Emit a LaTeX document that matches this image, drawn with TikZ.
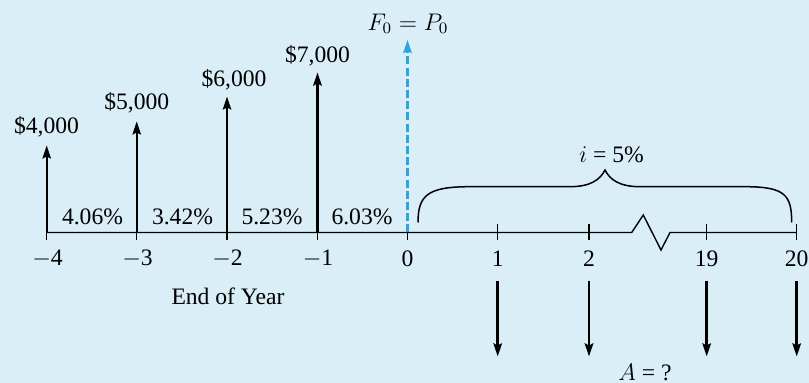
\documentclass[tikz,border=0pt]{standalone}
\usepackage{fontspec}
\setmainfont{Liberation Serif}
\usetikzlibrary{arrows.meta}
\definecolor{bg}{HTML}{DAEEF7}
\definecolor{dashblue}{HTML}{2AA6DC}
\begin{document}
\begin{tikzpicture}[x=0.5pt,y=-0.5pt,
  txt/.style={font=\fontsize{11.8}{14}\selectfont, inner sep=0pt},
  uparr/.style={-{Stealth[length=6.5pt,width=4.2pt,inset=1pt]}},
  downarr/.style={line width=1.4pt,-{Stealth[length=6.5pt,width=4.2pt,inset=1pt]}},
  tick/.style={line width=0.7pt}]
\fill[bg] (0,0) rectangle (809,383);
\useasboundingbox (0,0) rectangle (809,383);
% tick coordinates
\coordinate (tm4) at (46.7,232.5);
\coordinate (tm3) at (136.7,232.5);
\coordinate (tm2) at (227,232.5);
\coordinate (tm1) at (317.5,232.5);
\coordinate (t0) at (407.5,232.5);
\coordinate (t1) at (497.7,232.5);
\coordinate (t2) at (589,232.5);
\coordinate (t19) at (706.7,232.5);
\coordinate (t20) at (796.7,232.5);
% break
\coordinate (b1) at (631.7,232.5);
\coordinate (b2) at (643.3,215);
\coordinate (b3) at (661,250);
\coordinate (b4) at (670,232.5);
% axis
\draw[line width=0.7pt] (tm4) -- (b1) -- (b2) -- (b3) -- (b4) -- (t20);
\foreach \t in {tm4,tm3,tm2,tm1,t0} \draw[tick] (\t) -- ++(0,8);
\foreach \t in {t1,t2,t19,t20} \draw[tick] (\t) ++(0,-8) -- ++(0,16);
% tick labels
\node[txt] (lm4) at (47.5,258.5) {$-$4};
\node[txt] (lm3) at (137.5,258.5) {$-$3};
\node[txt] (lm2) at (227.5,258.5) {$-$2};
\node[txt] (lm1) at (318,258.5) {$-$1};
\node[txt] (l0) at (407.5,258.5) {0};
\node[txt] (l1) at (497.7,258.5) {1};
\node[txt] (l2) at (589,258.5) {2};
\node[txt] (l19) at (706.7,258.5) {19};
\node[txt] (l20) at (796.7,258.5) {20};
\node[txt] (eoy) at (228,296) {End of Year};
% up arrows
\coordinate (um4) at (46.7,145.5);
\coordinate (um3) at (136.7,121.5);
\coordinate (um2) at (227,96.5);
\coordinate (um1) at (317.5,72.5);
\coordinate (u0) at (407.5,40);
\draw[uparr,line width=1pt] (tm4) -- (um4);
\draw[uparr,line width=1pt] (tm3) -- (um3);
\draw[uparr,line width=1.2pt] (tm2) -- (um2);
\draw[uparr,line width=1.8pt] (tm1) -- (um1);
\draw[line width=1.3pt,dashblue,dash pattern=on 4pt off 1.6pt,-{Stealth[length=6.5pt,width=4.2pt,inset=1pt]}] (t0) -- (u0);
\node[txt] (c4) at (46.5,127) {\$4,000};
\node[txt] (c5) at (136.7,103) {\$5,000};
\node[txt] (c6) at (234,80) {\$6,000};
\node[txt] (c7) at (317.5,56) {\$7,000};
\node[txt] (fp) at (408,24) {$F_0 = P_0$};
% rates
\node[txt] (r1) at (92.5,216.5) {4.06\%};
\node[txt] (r2) at (182.5,216.5) {3.42\%};
\node[txt] (r3) at (272,216.5) {5.23\%};
\node[txt] (r4) at (362,216.5) {6.03\%};
% brace
\draw[line width=0.75pt] (418,222.5) .. controls (418,195) and (428,186.7) .. (470,186.7)
  -- (570,186.7) .. controls (590,186.7) and (600,180) .. (605,170)
  .. controls (610,180) and (620,186.7) .. (640,186.7)
  -- (745,186.7) .. controls (785,186.7) and (791.7,195) .. (791.7,222.5);
\node[txt] (irate) at (611.5,155) {$i$ = 5\%};
% down arrows
\foreach \t/\n in {t1/d1,t2/d2,t19/d19,t20/d20}{
  \path (\t) ++(0,49) coordinate (\n s) ++(0,75) coordinate (\n e);
  \draw[downarr] (\n s) -- (\n e);
}
\node[txt] (aq) at (645,372) {$A$ = ?};
\end{tikzpicture}
\end{document}
